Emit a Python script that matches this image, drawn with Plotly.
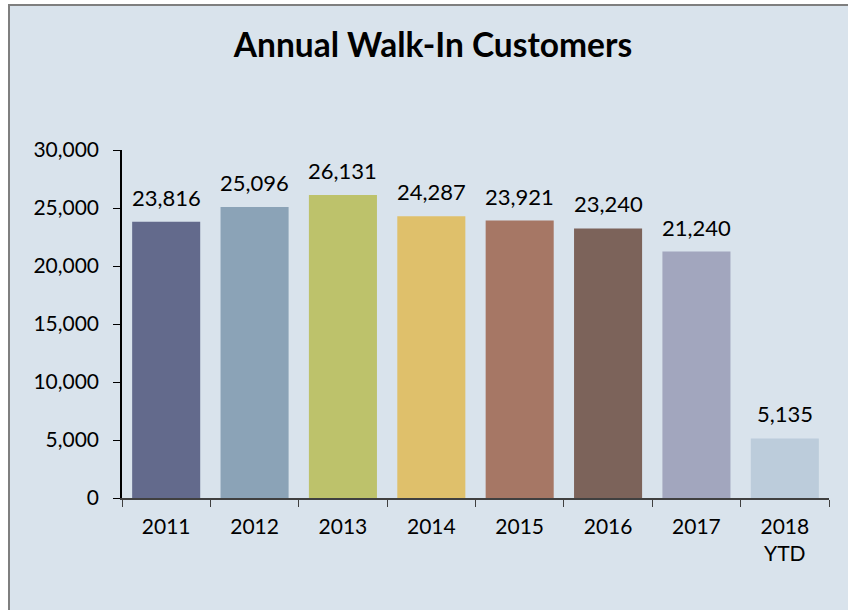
import plotly.graph_objects as go

categories = ["2011", "2012", "2013", "2014", "2015", "2016", "2017", "2018<br>YTD"]
values = [23816, 25096, 26131, 24287, 23921, 23240, 21240, 5135]
colors = ["#636A8C", "#8BA3B7", "#BDC26B", "#DFC06B", "#A67765", "#7C635A", "#A2A6BE", "#BCCCDB"]
title_text = "<b>Annual Walk-In Customers</b>"

FONT = "Lato, 'Open Sans', sans-serif"

fig = go.Figure()
fig.add_trace(go.Bar(x=categories, y=values, marker=dict(color=colors, line=dict(width=0)),
                     hoverinfo="skip"))

for i, v in enumerate(values):
    fig.add_annotation(x=i, y=v, xref="x", yref="y", text=f"{v:,}", showarrow=False,
                       yanchor="bottom", yshift=9,
                       font=dict(size=22, color="black", family=FONT))

W, H = 848, 610
l, r, t, b = 122, 19, 150, 112
pw, ph = W - l - r, H - t - b

def px_x(x):
    return (x - l) / pw

def px_y(y):
    return (H - b - y) / ph

fig.add_shape(type="rect", xref="paper", yref="paper", layer="below",
              x0=px_x(9), x1=px_x(860), y0=px_y(620), y1=px_y(5),
              fillcolor="#D9E3EC", line=dict(color="#7F7F7F", width=2))

fig.update_layout(
    width=W, height=H,
    margin=dict(l=l, r=r, t=t, b=b),
    paper_bgcolor="white", plot_bgcolor="rgba(0,0,0,0)",
    bargap=0.23,
    showlegend=False,
    font=dict(family=FONT, size=21, color="black"),
    title=dict(text=title_text, x=433 / W, xref="container", xanchor="center",
               y=1 - 45 / H, yref="container", yanchor="middle",
               font=dict(size=33.5, family=FONT, color="black")),
    xaxis=dict(type="category", range=[-0.5, len(categories) - 0.5], showline=True,
               linecolor="#404040", linewidth=1.5,
               ticks="outside", tickson="boundaries", ticklen=7, tickcolor="#404040",
               showgrid=False, ticklabelstandoff=9, tickfont=dict(size=21)),
    yaxis=dict(range=[0, 30000], dtick=5000, tickformat=",", showline=True,
               linecolor="black", linewidth=1.5, ticks="outside", ticklen=7,
               tickcolor="black", showgrid=False, zeroline=False,
               ticklabelstandoff=10, tickfont=dict(size=21)),
)

fig.write_html("out.html")
